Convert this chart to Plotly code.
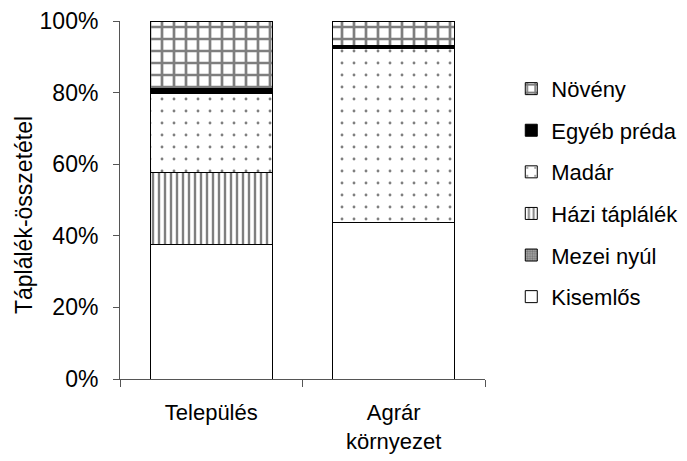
import plotly.graph_objects as go

categories = ["Település", "Agrár<br>környezet"]
series_names = ["Kisemlős", "Mezei nyúl", "Házi táplálék", "Madár", "Egyéb préda", "Növény"]
kisemlos = [37.7, 43.8]
mezei_nyul = [0.0, 0.0]
hazi_taplalek = [19.9, 0.0]
madar = [22.2, 48.6]
egyeb_preda = [1.3, 0.8]
noveny = [18.9, 6.8]
y_title = "Táplálék-összetétel"

values = [kisemlos, mezei_nyul, hazi_taplalek, madar, egyeb_preda, noveny]
patterns = [
    dict(shape="", bgcolor="white"),
    dict(shape=".", fgcolor="#444", bgcolor="#aaa", size=3, solidity=0.5),
    dict(shape="|", fgcolor="black", bgcolor="white", size=6, solidity=0.4),
    dict(shape=".", fgcolor="black", bgcolor="white", size=12, solidity=0.045),
    dict(shape="", bgcolor="black"),
    dict(shape="+", fgcolor="black", bgcolor="white", size=12, solidity=0.4),
]
colors = ["white", "#aaa", "white", "white", "black", "white"]

fig = go.Figure()
n = len(series_names)
for i, (name, vals) in enumerate(zip(series_names, values)):
    fig.add_trace(go.Bar(
        x=categories, y=vals, name=name, legendgroup=name, legendrank=n - i,
        marker=dict(color=colors[i], pattern=patterns[i],
                    line=dict(color="black", width=1)),
        width=0.67,
    ))

font = dict(family="Liberation Sans, Arial, sans-serif", size=23, color="black")
fig.update_layout(
    barmode="stack",
    width=687, height=461,
    margin=dict(l=112, r=208, t=13, b=90),
    paper_bgcolor="white", plot_bgcolor="white",
    font=font,
    legend=dict(traceorder="grouped", tracegroupgap=10,
                x=1.072, xanchor="left", y=0.52, yanchor="middle",
                font=dict(size=22), itemwidth=30),
    xaxis=dict(showline=True, linecolor="#555", linewidth=1, ticks="outside",
               tickson="boundaries", ticklen=7, tickcolor="#555",
               tickfont=dict(size=22), automargin=False, ticklabelstandoff=14),
    yaxis=dict(range=[0, 100], tickvals=[0, 20, 40, 60, 80, 100],
               ticktext=["0%", "20%", "40%", "60%", "80%", "100%"],
               showline=True, linecolor="#555", linewidth=1, ticks="outside",
               ticklen=6, tickcolor="#555", showgrid=False, zeroline=False,
               automargin=False, ticklabelstandoff=10, ticklabeloverflow="allow",
               tickfont=dict(size=23)),
    annotations=[dict(text=y_title, xref="paper", yref="paper", x=-0.263, y=0.458,
                      xanchor="center", yanchor="middle", textangle=-90,
                      showarrow=False, font=dict(size=23))],
)
fig.write_html("out.html")
